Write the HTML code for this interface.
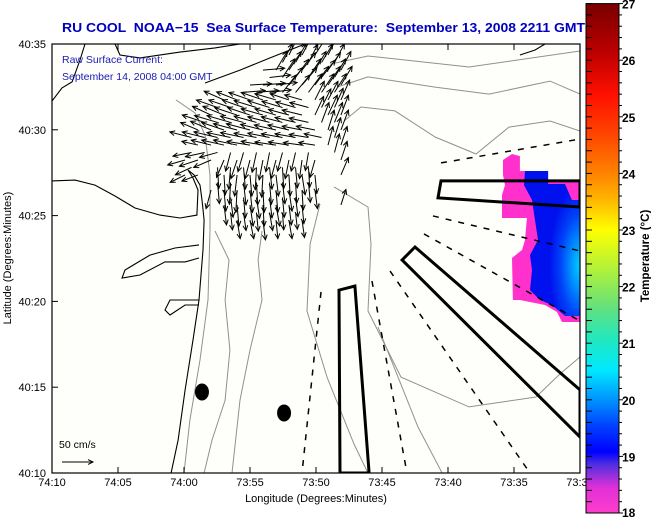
<!DOCTYPE html>
<html><head><meta charset="utf-8"><style>
html,body{margin:0;padding:0;background:#fff;}
svg{display:block;font-family:"Liberation Sans",sans-serif;}
</style></head><body>
<svg id="chart" width="651" height="518" viewBox="0 0 651 518" xmlns="http://www.w3.org/2000/svg">
<defs>
<linearGradient id="cbar" x1="0" y1="1" x2="0" y2="0">
<stop offset="0" stop-color="#ff3ccc"/><stop offset="0.05" stop-color="#e030d8"/><stop offset="0.095" stop-color="#5030e0"/>
<stop offset="0.12" stop-color="#0000ff"/><stop offset="0.17" stop-color="#0040ff"/><stop offset="0.22" stop-color="#0090ff"/>
<stop offset="0.28" stop-color="#00e8ff"/><stop offset="0.34" stop-color="#20e8c0"/><stop offset="0.40" stop-color="#60e080"/>
<stop offset="0.47" stop-color="#a8f040"/><stop offset="0.555" stop-color="#ffff00"/><stop offset="0.62" stop-color="#ffb000"/>
<stop offset="0.67" stop-color="#ff8000"/><stop offset="0.75" stop-color="#ff4000"/><stop offset="0.82" stop-color="#ff1000"/>
<stop offset="0.9" stop-color="#c00000"/><stop offset="1" stop-color="#780000"/>
</linearGradient>
<radialGradient id="blueg" cx="1" cy="0.65" r="0.55">
<stop offset="0" stop-color="#00d0ff"/><stop offset="0.3" stop-color="#0090ff"/><stop offset="0.65" stop-color="#0040f8"/><stop offset="1" stop-color="#0010ee"/>
</radialGradient>
<clipPath id="plotclip"><rect x="52" y="44" width="528" height="429"/></clipPath>
</defs>
<rect x="0" y="0" width="651" height="518" fill="#ffffff"/>
<rect x="52" y="44" width="528" height="429" fill="#fefefa"/>
<g id="layers" clip-path="url(#plotclip)"></g>
<rect x="52" y="44" width="528" height="429" fill="none" stroke="#000" stroke-width="1.2"/>
<g id="axes"></g>
<text x="62" y="32" font-size="13" font-weight="bold" fill="#0000c0" textLength="523" lengthAdjust="spacingAndGlyphs" xml:space="preserve">RU COOL  NOAA−15  Sea Surface Temperature:  September 13, 2008 2211 GMT</text>
<text x="62" y="63" font-size="10.5" fill="#1a1ab8">Raw Surface Current:</text>
<text x="62" y="80" font-size="10.5" fill="#1a1ab8">September 14, 2008 04:00 GMT</text>
<text x="59" y="448" font-size="10.5" fill="#000">50 cm/s</text>
<text x="316" y="502" font-size="11" text-anchor="middle" fill="#000">Longitude (Degrees:Minutes)</text>
<text x="0" y="0" font-size="11" text-anchor="middle" fill="#000" transform="translate(11,258) rotate(-90)">Latitude (Degrees:Minutes)</text>
<g id="colorbar"></g>
<text x="0" y="0" font-size="11.5" font-weight="bold" text-anchor="middle" fill="#000" transform="translate(649,256) rotate(-90)">Temperature (°C)</text>
</svg>
<script>
const xTickLabels = ["74:10","74:05","74:00","73:55","73:50","73:45","73:40","73:35","73:30"];
const xTickValues = [0,5,10,15,20,25,30,35,40];
const yTickLabels = ["40:10","40:15","40:20","40:25","40:30","40:35"];
const yTickValues = [0,5,10,15,20,25];
const cbarTicks = [18,19,20,21,22,23,24,25,26,27];

const coastMain = [[9.02,0],[9.55,1.92],[10.08,4.84],[10.68,7.75],[11.14,10.08],[11.44,13.0],[11.52,14.74],[11.36,15.91],[11.21,16.78],[10.76,17.37],[10.30,17.66],[10.68,17.19],[11.06,16.49],[10.98,15.03],[9.70,14.86],[8.18,15.03],[6.29,15.44],[4.77,16.14],[3.26,16.78],[1.74,17.07],[0,17.02]];
const coastRiver1 = [[11.14,13.29],[9.32,13.11],[7.42,12.70],[5.53,11.83],[5.30,11.36],[6.67,11.54],[8.56,12.30],[10.08,12.30],[11.14,12.53]];
const coastRiver2 = [[11.14,10.08],[8.94,10.08],[8.56,9.50],[8.94,9.21],[10.08,9.79],[11.14,9.79]];
const coastTop1 = [[0,21.68],[0.76,22.44],[1.52,22.79],[2.12,24.07],[2.5,25]];
const coastTop2 = [[4.77,25],[5.15,24.36],[6.67,24.19],[9.70,24.53],[12.35,24.77],[14.24,25]];
const coastTop3 = [[11.59,22.73],[14.24,23.48],[16.52,24.19],[19.17,25]];
const coastTop4 = [[35.45,24.36],[36.6,24.65],[37.35,25]];

const contour1 = [[9.39,21.74],[10.83,20.98],[11.59,19.70],[11.97,17.37],[11.97,14.16],[11.82,10.08],[11.21,6.59],[10.45,3.09],[10.0,0]];
const contour2 = [[12.35,14.1],[13.41,12.41],[13.11,10.08],[13.48,7.17],[13.11,4.25],[12.12,1.92],[11.52,0]];
const contour3 = [[15.91,14.1],[15.61,12.41],[15.91,10.08],[15.0,7.17],[14.24,4.25],[13.64,0]];
const contour4 = [[21.06,23.83],[23.94,24.30],[31.59,23.66],[40,24.59]];
const contour5 = [[21.59,22.49],[23.94,23.08],[29.02,22.49],[33.11,22.08],[37.73,22.84],[40,22.08]];
const contour6 = [[22.12,20.51],[23.41,21.33],[25.98,21.1],[29.02,19.58],[32.12,18.59],[34.62,20.16],[37.73,20.51],[40,19.93]];
const contour7 = [[21.36,16.67],[23.94,15.5],[24.17,13.34],[23.94,9.44],[26.44,5.59],[31.59,3.85],[36.67,4.43],[38.48,5.77],[40,6.76]];
const contour8 = [[20.3,15.68],[19.55,13.34],[19.32,9.44],[20.83,5.59],[22.88,1.69],[23.94,0]];
const contour9 = [[24.7,8.51],[27.73,2.68],[29.55,0]];

const sstWarm = [[34.17,18.24],[34.85,18.59],[35.45,18.47],[35.45,17.60],[37.58,17.60],[37.58,17.02],[40,17.02],[40,8.80],[38.64,8.80],[38.26,9.38],[37.35,9.79],[35.45,10.08],[34.92,10.08],[34.85,12.53],[35.61,13.00],[35.83,13.58],[35.98,14.86],[34.09,14.86],[34.09,16.20],[34.32,16.78],[34.17,17.37]];
const sstCold = [[35.83,17.60],[37.58,17.60],[37.58,16.84],[38.86,16.84],[39.39,15.91],[40,15.91],[40,9.15],[38.86,9.15],[37.88,9.79],[36.97,10.08],[36.21,10.66],[36.36,11.83],[36.21,12.70],[36.82,13.58],[36.59,14.74],[36.36,15.91],[35.76,16.78]];

const boxTop = [[29.47,17.02],[40,17.02],[40,15.50],[29.24,16.03]];
const boxDiag = [[27.5,13.17],[40,4.84],[40,2.10],[26.52,12.41]];
const boxNarrow = [[21.82,0],[21.74,10.66],[22.95,10.90],[24.02,0]];
const dashLines = [
  [[29.47,18.07],[40,19.46]],
  [[28.86,14.98],[40,12.94]],
  [[28.18,13.93],[40,8.86]],
  [[25.61,11.77],[36.21,0]],
  [[24.24,11.19],[26.89,0]],
  [[20.38,10.55],[18.94,0]]
];
const stationLon = [11.36, 17.58];
const stationLat = [4.72, 3.50];

const gridLon = [10.08,11.06,12.05,13.03,14.02,15.0,15.98,16.97,17.95,18.94,19.92,20.91,21.89];
const gridLat = [24.36,23.48,22.61,21.74,20.86,19.99,19.11,18.24,17.37,16.49,15.62,14.74];
const N = null;
const curU = [
 [N,N,N,N,N,N,N,N,15,16,18,15,N],
 [N,N,N,N,N,N,35,18,20,22,18,20,16],
 [N,N,N,N,N,35,36,34,22,24,22,20,18],
 [N,N,N,-32,-33,-34,-35,-34,-30,-28,15,16,14],
 [N,N,-30,-34,-36,-36,-35,-34,-33,-32,14,15,12],
 [N,-28,-33,-36,-38,-38,-36,-35,-34,-32,-30,10,12],
 [N,-26,-32,-36,-38,-37,-35,-34,-33,-30,-26,8,10],
 [-28,-30,-28,-12,-10,-8,-6,-8,-6,-4,-8,N,10],
 [-24,-26,N,2,-4,3,-2,4,2,5,3,N,12],
 [N,N,-8,3,-2,4,2,3,5,2,4,N,N],
 [N,N,N,4,3,5,2,6,4,3,N,N,8],
 [N,N,N,N,5,6,4,3,5,4,N,N,N]
];
const curV = [
 [N,N,N,N,N,N,N,N,30,30,28,30,N],
 [N,N,N,N,N,N,3,30,30,28,30,28,30],
 [N,N,N,N,N,2,3,4,28,28,30,30,30],
 [N,N,N,14,13,12,12,10,10,8,30,30,32],
 [N,N,14,14,12,12,10,10,9,8,30,32,32],
 [N,12,14,12,10,10,9,8,8,6,6,32,32],
 [N,6,8,8,8,6,6,5,5,4,4,30,30],
 [-8,-10,-12,-28,-30,-30,-32,-30,-30,-30,-28,N,30],
 [-12,-10,N,-32,-34,-34,-36,-34,-34,-32,-30,N,28],
 [N,N,-30,-34,-36,-36,-36,-36,-34,-32,-30,N,N],
 [N,N,N,-32,-34,-34,-34,-34,-32,-30,N,N,25],
 [N,N,N,N,-30,-30,-32,-30,-30,-28,N,N,N]
];
const gridLon2 = [10.57,11.56,12.54,13.53,14.51,15.49,16.48,17.46,18.45,19.43,20.42,21.4];
const gridLat2 = [23.92,23.05,22.18,21.30,20.43,19.55,18.68,17.81,16.93,16.06,15.18];
const curU2 = [
 [N,N,N,N,N,N,N,16,17,15,18,16],
 [N,N,N,N,N,N,34,20,21,20,22,18],
 [N,N,N,N,35,36,35,22,23,22,20,19],
 [N,N,-34,-35,-34,-36,-35,-33,-32,-30,15,14],
 [N,-36,-37,-38,-37,-36,-35,-34,-33,-31,12,13],
 [-35,-36,-38,-38,-37,-36,-35,-34,-33,-31,-28,10],
 [-30,-31,-29,-8,-9,-7,-6,-8,-7,-5,N,8],
 [-26,N,2,-3,3,-2,4,2,3,2,N,N],
 [N,N,3,-2,4,2,3,4,2,3,N,N],
 [N,N,N,4,3,5,4,3,4,N,N,N],
 [N,N,N,3,4,3,5,2,3,N,N,N]
];
const curV2 = [
 [N,N,N,N,N,N,N,30,30,29,30,30],
 [N,N,N,N,N,N,4,30,29,30,28,30],
 [N,N,N,N,3,3,4,28,28,30,30,30],
 [N,N,12,12,12,11,11,10,9,8,30,31],
 [N,12,11,11,10,10,9,9,8,7,32,32],
 [9,9,9,8,8,7,7,6,6,5,6,32],
 [-6,-7,-8,-30,-31,-32,-31,-30,-30,-29,N,30],
 [-12,N,-34,-35,-35,-36,-35,-34,-33,-32,N,N],
 [N,N,-34,-35,-36,-36,-35,-34,-33,-32,N,N],
 [N,N,N,-32,-33,-34,-33,-32,-31,N,N,N],
 [N,N,N,-28,-29,-30,-29,-28,-27,N,N,N]
];
const scaleSpeed = 50;

const X = m => 52 + m * 13.2;
const Y = n => 473 - n * 17.16;
const PXPERCM = 0.62;
const CB_T = t => 513 - (t - 18) * 56.6;
const NS = "http://www.w3.org/2000/svg";
const layers = document.getElementById('layers');
const axes = document.getElementById('axes');
const cb = document.getElementById('colorbar');

function mk(tag, attrs, parent) {
  const e = document.createElementNS(NS, tag);
  for (const k in attrs) e.setAttribute(k, attrs[k]);
  parent.appendChild(e);
  return e;
}
function pts(arr) { return arr.map(p => X(p[0]).toFixed(1) + ',' + Y(p[1]).toFixed(1)).join(' '); }

let e = mk('polygon', {points: pts(sstWarm), fill: '#ff30cc'}, layers);


e = mk('polygon', {points: pts(sstCold), fill: 'url(#blueg)'}, layers);



[contour1, contour2, contour3, contour4, contour5, contour6, contour7, contour8, contour9].forEach(c => {
  const el = mk('polyline', {points: pts(c), fill: 'none', stroke: '#909090', 'stroke-width': 1}, layers);
  
  
});
[coastMain, coastRiver1, coastRiver2, coastTop1, coastTop2, coastTop3, coastTop4].forEach(c => {
  const el = mk('polyline', {points: pts(c), fill: 'none', stroke: '#000', 'stroke-width': 1.1}, layers);
  
  
});
dashLines.forEach(d => {
  const el = mk('line', {x1: X(d[0][0]), y1: Y(d[0][1]), x2: X(d[1][0]), y2: Y(d[1][1]), stroke: '#000', 'stroke-width': 1.5, 'stroke-dasharray': '6,7'}, layers);
  
  
});
[boxTop, boxDiag, boxNarrow].forEach(b => {
  const el = mk('polygon', {points: pts(b), fill: 'none', stroke: '#000', 'stroke-width': 3, 'stroke-linejoin': 'miter'}, layers);
  
  
});
stationLon.forEach((lo, i) => {
  const el = mk('ellipse', {cx: X(lo), cy: Y(stationLat[i]), rx: 7, ry: 8.5, fill: '#000'}, layers);
  
  
});
function arrow(x, y, u, v, parent, name) {
  const dx = u * PXPERCM, dy = -v * PXPERCM;
  const x2 = x + dx, y2 = y + dy;
  const L = Math.hypot(dx, dy) || 1;
  const ux = dx / L, uy = dy / L, h = 5, w = 2.4;
  const g = mk('g', {}, parent);
  
  
  mk('line', {x1: x, y1: y, x2: x2, y2: y2, stroke: '#000', 'stroke-width': 1}, g);
  mk('polyline', {points: (x2 - ux*h - uy*w) + ',' + (y2 - uy*h + ux*w) + ' ' + x2 + ',' + y2 + ' ' + (x2 - ux*h + uy*w) + ',' + (y2 - uy*h - ux*w), fill: 'none', stroke: '#000', 'stroke-width': 1}, g);
}
gridLat.forEach((la, r) => gridLon.forEach((lo, c) => {
  const u = curU[r][c], v = curV[r][c];
  if (u === null || v === null) return;
  arrow(X(lo), Y(la), u, v, layers, 'current-vector');
}));
gridLat2.forEach((la, r) => gridLon2.forEach((lo, c) => {
  const u = curU2[r][c], v = curV2[r][c];
  if (u === null || v === null) return;
  arrow(X(lo), Y(la), u, v, layers, 'current-vector');
}));
arrow(62, 462, scaleSpeed, 0, document.getElementById('chart'), 'scale-arrow');

xTickValues.forEach((v, i) => {
  const x = X(v);
  let t = mk('line', {x1: x, y1: 473, x2: x, y2: 467, stroke: '#000'}, axes);
  
  
  t = mk('line', {x1: x, y1: 44, x2: x, y2: 50, stroke: '#000'}, axes);
  
  
  const tx = mk('text', {x: x, y: 486, 'font-size': 11, 'text-anchor': 'middle', fill: '#000'}, axes);
  tx.textContent = xTickLabels[i];
  
  
});
yTickValues.forEach((v, i) => {
  const y = Y(v);
  let t = mk('line', {x1: 52, y1: y, x2: 58, y2: y, stroke: '#000'}, axes);
  
  
  const tx = mk('text', {x: 46, y: y + 4, 'font-size': 11, 'text-anchor': 'end', fill: '#000'}, axes);
  tx.textContent = yTickLabels[i];
  
  
});
let cbr = mk('rect', {x: 586, y: CB_T(27), width: 33, height: CB_T(18) - CB_T(27), fill: 'url(#cbar)', stroke: '#000', 'stroke-width': 1}, cb);


for (let k = 0; k <= 45; k++) {
  const t = 18 + k * 0.2;
  const y = CB_T(t);
  const major = k % 5 === 0;
  const l = mk('line', {x1: 586, y1: y, x2: 592, y2: y, stroke: '#000'}, cb);
  
  
  const l2 = mk('line', {x1: 619, y1: y, x2: major ? 623 : 622, y2: y, stroke: '#000'}, cb);
  
  
}
cbarTicks.forEach(t => {
  const tx = mk('text', {x: 622, y: Math.min(CB_T(t) + 5, 517), 'font-size': 12, 'font-weight': 'bold', fill: '#000'}, cb);
  tx.textContent = String(t);
  
  
});
</script>
</body></html>
